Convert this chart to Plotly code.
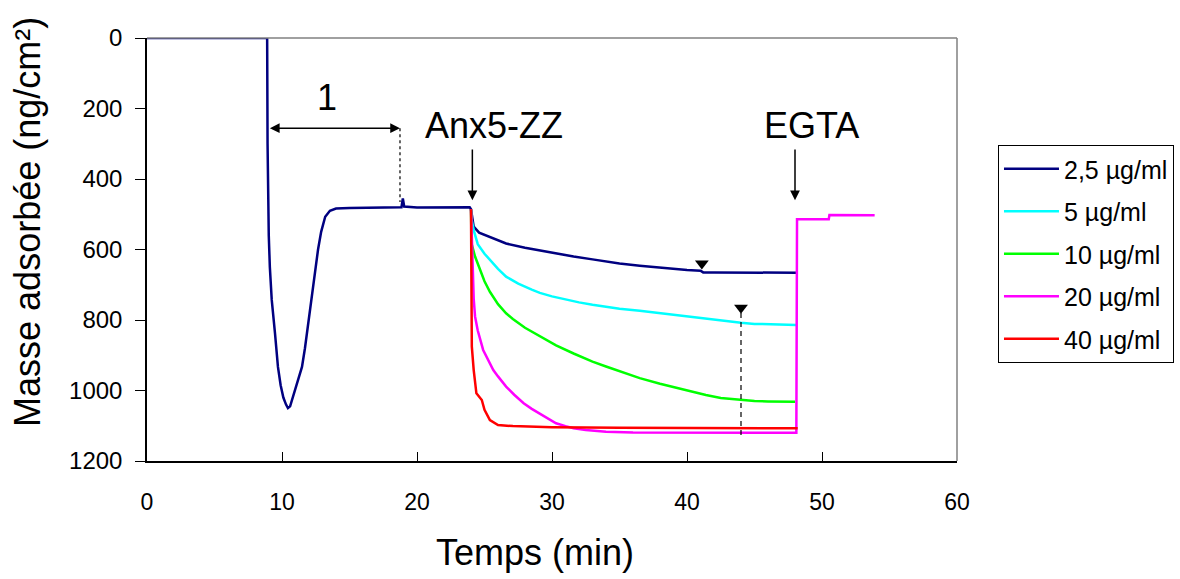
import plotly.graph_objects as go

# Adsorbed mass (ng/cm²) versus time (min) for several Anx5-ZZ concentrations
t_25 = [0, 8.9, 8.93, 8.97, 9.02, 9.1, 9.24, 9.48, 9.7, 9.9, 10.1, 10.3, 10.44, 10.6, 10.8,
        10.96, 11.2, 11.48, 11.7, 11.85, 12.0, 12.15, 12.4, 12.67, 12.9, 13.2, 13.55, 14.0,
        15, 16, 17, 18, 18.85, 18.95, 19.05, 20, 21, 22, 23, 23.9, 24.0, 24.1, 24.2, 24.6,
        25.4, 26.6, 28, 29.1, 30.3, 31.6, 33, 34, 35, 36.5, 38, 39, 40, 41.0, 41.2, 42, 44,
        46, 48.1]
m_25 = [0, 0, 300, 450, 560, 650, 743, 837, 933, 985, 1020, 1040, 1050, 1045, 1020,
        1000, 965, 933, 880, 837, 790, 743, 680, 600, 550, 507, 490, 484,
        482, 481, 481, 480, 480, 455, 478, 481, 481, 482, 482, 480, 486, 510, 535, 552,
        564, 583, 595, 603, 611, 620, 628, 635, 640, 646, 652, 655, 658, 660, 665, 665, 666,
        666, 666]

t_5 = [24.0, 24.05, 24.2, 24.5, 25, 25.4, 26, 26.6, 27.5, 28.5, 29.1, 30, 31, 32, 33, 34,
       35, 36.5, 38, 39, 40, 41, 42.7, 44, 45, 46, 47, 48.1]
m_5 = [486, 516, 545, 585, 612, 630, 655, 677, 697, 714, 723, 733, 742, 750, 757, 763,
       768, 774, 781, 786, 791, 796, 803, 808, 811, 812, 813, 814]

t_10 = [24.0, 24.04, 24.3, 24.67, 25.0, 25.4, 25.65, 26.0, 26.6, 27.1, 28, 29.1, 30.3, 31.6,
        33, 34, 35, 36.5, 38, 39, 40, 41.4, 42.5, 43.9, 45, 46, 47, 48.0]
m_10 = [486, 583, 620, 658, 690, 720, 734, 755, 781, 797, 822, 847, 872, 895,
        918, 932, 946, 965, 981, 991, 1001, 1013, 1021, 1027, 1030, 1031, 1032, 1032]

t_20 = [24.0, 24.1, 24.2, 24.3, 24.5, 24.9, 25.3, 25.65, 26.0, 26.6, 27.2, 27.9, 28.5, 29.1,
        29.7, 30.3, 31, 31.6, 32.5, 34, 36, 40, 44, 48.1, 48.15, 49, 50.5, 50.55, 52, 53.9]
m_20 = [486, 600, 740, 790, 830, 885, 918, 942, 960, 989, 1012, 1036, 1052, 1065,
        1080, 1093, 1101, 1107, 1112, 1117, 1119, 1120, 1120, 1120, 514, 514, 514, 502, 502, 503]

t_40 = [24.0, 24.04, 24.06, 24.2, 24.4, 24.8, 25.0, 25.4, 26.0, 27.1, 30, 35, 40, 48.2]
m_40 = [486, 800, 875, 942, 1008, 1027, 1055, 1084, 1098, 1101, 1104, 1106, 1107, 1107]

series_names = ["2,5 µg/ml", "5 µg/ml", "10 µg/ml", "20 µg/ml", "40 µg/ml"]
series_colors = ["#000080", "#00FFFF", "#00FF00", "#FF00FF", "#FF0000"]

# Marker positions (triangles) and guide lines
tri_t = [41.1, 44.0]
tri_m = [640, 765]
interval_t = [8.99, 18.74]      # double arrow "1"
interval_m = 256
guide1_m = [256, 465]           # dashed line below the arrow end
guide2_t = 44.0
guide2_m = [780, 1132]
inject_t = [24.1, 48.0]         # Anx5-ZZ and EGTA injections
inject_m = [312, 460]

x_ticks = [0, 10, 20, 30, 40, 50, 60]
y_ticks = [0, 200, 400, 600, 800, 1000, 1200]

FONT = "Liberation Sans, Arial, sans-serif"

fig = go.Figure()
for tt, mm, name, col in zip([t_25, t_5, t_10, t_20, t_40],
                             [m_25, m_5, m_10, m_20, m_40],
                             series_names, series_colors):
    fig.add_trace(go.Scatter(x=tt, y=mm, mode="lines", name=name,
                             line=dict(color=col, width=2.5), legendgroup=name))

# dashed guides
fig.add_trace(go.Scatter(x=[interval_t[1], interval_t[1]], y=guide1_m, mode="lines",
                         line=dict(color="black", width=1.2, dash="3px,3px"),
                         showlegend=False, hoverinfo="skip"))
fig.add_trace(go.Scatter(x=[guide2_t, guide2_t], y=guide2_m, mode="lines",
                         line=dict(color="black", width=1.2, dash="5px,4px"),
                         showlegend=False, hoverinfo="skip"))
fig.add_trace(go.Scatter(x=tri_t, y=tri_m, mode="markers",
                         marker=dict(symbol="triangle-down", size=12, color="black"),
                         showlegend=False, hoverinfo="skip"))

# arrows
fig.add_annotation(x=interval_t[1], y=interval_m, ax=interval_t[0], ay=interval_m,
                   xref="x", yref="y", axref="x", ayref="y", text="", showarrow=True,
                   arrowhead=2, startarrowhead=2, arrowside="end+start",
                   arrowsize=1.3, startarrowsize=1.3, arrowwidth=1.5, arrowcolor="black")
for it in inject_t:
    fig.add_annotation(x=it, y=inject_m[1], ax=it, ay=inject_m[0],
                       xref="x", yref="y", axref="x", ayref="y", text="", showarrow=True,
                       arrowhead=2, arrowsize=1.3, arrowwidth=1.5, arrowcolor="black")

# labels
big = dict(family=FONT, size=36, color="black")
fig.add_annotation(x=13.33, y=170, text="1", showarrow=False, font=big)
fig.add_annotation(x=25.7, y=247, text="Anx5-ZZ", showarrow=False, font=big)
fig.add_annotation(x=49.2, y=247, text="EGTA", showarrow=False, font=big)
fig.add_annotation(x=-0.176, y=0.565, xref="paper", yref="paper", text="Masse adsorbée (ng/cm²)",
                   textangle=-90, showarrow=False, font=big)
fig.add_annotation(x=0.479, y=-0.27, xref="paper", yref="paper", text="Temps (min)",
                   showarrow=False, font=big)

# gray frame on top and right
fig.add_shape(type="line", xref="paper", yref="paper", x0=0, x1=1, y0=1, y1=1,
              line=dict(color="#808080", width=1.5))
fig.add_shape(type="line", xref="paper", yref="paper", x0=1, x1=1, y0=0, y1=1,
              line=dict(color="#808080", width=1.5))

fig.update_layout(
    width=1180, height=579,
    margin=dict(l=147, r=223, t=38, b=118, autoexpand=False),
    paper_bgcolor="white", plot_bgcolor="white",
    font=dict(family=FONT, size=24, color="black"),
    xaxis=dict(range=[0, 60], tickvals=x_ticks, ticks="inside", ticklen=9, tickcolor="black",
               showline=True, linecolor="black", linewidth=1.5, showgrid=False, zeroline=False,
               tickfont=dict(size=23), ticklabelstandoff=20),
    yaxis=dict(range=[1200, 0], tickvals=y_ticks, ticks="outside", ticklen=10, tickcolor="black",
               showline=True, linecolor="black", linewidth=1.5, showgrid=False, zeroline=False,
               tickfont=dict(size=24), ticklabelstandoff=8),
    legend=dict(x=1.0506, y=0.747, xanchor="left", yanchor="top",
                bordercolor="black", borderwidth=1, font=dict(size=25),
                itemwidth=55, tracegroupgap=7, bgcolor="white"),
    showlegend=True,
)

fig.write_html("out.html")
